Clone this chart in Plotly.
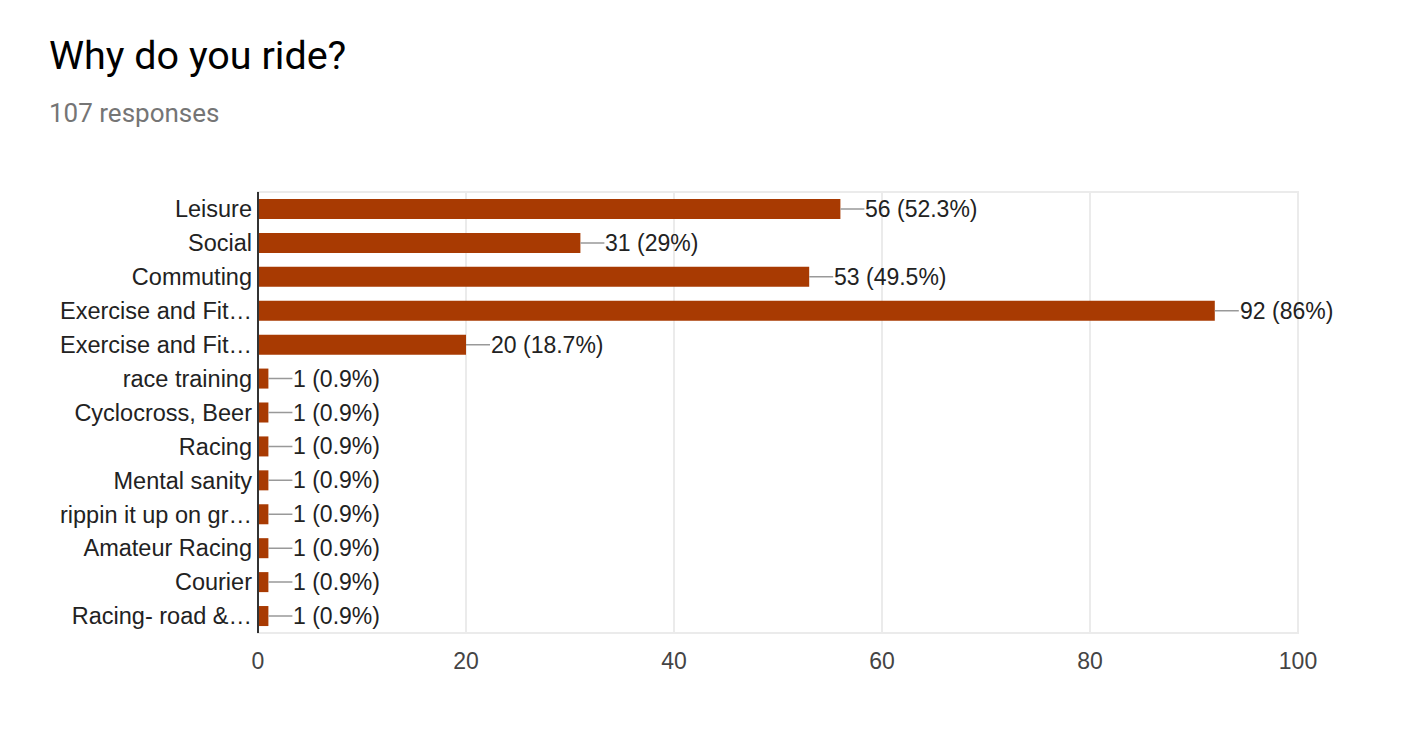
import plotly.graph_objects as go

categories = ["Leisure", "Social", "Commuting", "Exercise and Fit\u2026", "Exercise and Fit\u2026",
              "race training", "Cyclocross, Beer", "Racing", "Mental sanity",
              "rippin it up on gr\u2026", "Amateur Racing", "Courier", "Racing- road &\u2026"]
counts = [56, 31, 53, 92, 20, 1, 1, 1, 1, 1, 1, 1, 1]
percents = ["52.3%", "29%", "49.5%", "86%", "18.7%", "0.9%", "0.9%", "0.9%", "0.9%",
            "0.9%", "0.9%", "0.9%", "0.9%"]
x_ticks = [0, 20, 40, 60, 80, 100]

BAR = "#a83a02"
FONT = "Liberation Sans, Arial, sans-serif"
positions = list(range(len(categories)))

fig = go.Figure(go.Bar(
    x=counts, y=positions, orientation="h",
    marker=dict(color=BAR, line=dict(width=0)),
    hoverinfo="skip",
))

annotations = []
for i, v, p in zip(positions, counts, percents):
    annotations.append(dict(
        x=v, y=i, xref="x", yref="y",
        text=f"{v} ({p})", showarrow=True, arrowhead=0, arrowwidth=1.5,
        arrowcolor="#999999", ax=24, ay=0, xanchor="left", yanchor="middle",
        borderpad=0, font=dict(family=FONT, size=23, color="#222222"),
    ))

annotations.append(dict(
    text="Why do you ride?", xref="paper", yref="paper", x=(47 - 258) / 1040, y=1 + (192 - 55) / 441,
    xanchor="left", yanchor="middle", showarrow=False,
    font=dict(family="Roboto, sans-serif", size=39.5, color="#000000"),
))
annotations.append(dict(
    text="107 responses", xref="paper", yref="paper", x=(47 - 258) / 1040, y=1 + (192 - 113) / 441,
    xanchor="left", yanchor="middle", showarrow=False,
    font=dict(family="Roboto, sans-serif", size=26, color="#757575"),
))

fig.update_layout(
    width=1404, height=734,
    margin=dict(l=250, r=114, t=184, b=109),
    plot_bgcolor="white", paper_bgcolor="white",
    bargap=0.41, showlegend=False,
    annotations=annotations,
    shapes=[dict(type="rect", xref="paper", yref="paper", x0=0, x1=1, y0=0, y1=1,
                 line=dict(color="#ebebeb", width=2), layer="below"),
            dict(type="line", xref="paper", yref="paper", x0=0, x1=0, y0=0, y1=1,
                 line=dict(color="#333333", width=2), layer="above")],
    xaxis=dict(range=[0, 100], tickvals=x_ticks, showgrid=True, gridcolor="#ebebeb", gridwidth=2,
               zeroline=False, showline=False, ticks="", ticklabelstandoff=12,
               tickfont=dict(family=FONT, size=23, color="#444444"), fixedrange=True),
    yaxis=dict(range=[len(categories) - 0.5, -0.5], tickvals=positions, ticktext=categories,
               showgrid=False, zeroline=False, showline=False,
               ticks="", ticklabelstandoff=5,
               tickfont=dict(family=FONT, size=23.5, color="#222222"), fixedrange=True),
)

fig.write_html("out.html")
